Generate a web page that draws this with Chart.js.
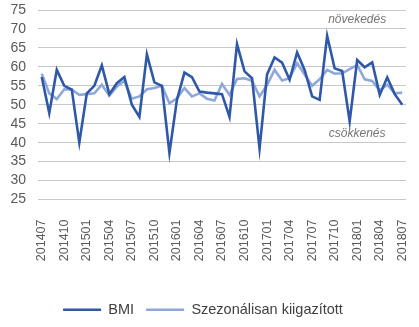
<!DOCTYPE html>
<html><head><meta charset="utf-8">
<script src="https://cdn.jsdelivr.net/npm/chart.js@4/dist/chart.umd.min.js"></script>
<style>html,body{margin:0;padding:0;background:#fff}#wrap{width:419px;height:327px}</style>
</head><body><div id="wrap"><canvas id="c" width="419" height="327"></canvas></div>
<script>
const months = ['201407','201408','201409','201410','201411','201412','201501','201502','201503','201504','201505','201506','201507','201508','201509','201510','201511','201512','201601','201602','201603','201604','201605','201606','201607','201608','201609','201610','201611','201612','201701','201702','201703','201704','201705','201706','201707','201708','201709','201710','201711','201712','201801','201802','201803','201804','201805','201806','201807'];
const bmi = [57.3,47.8,59.2,55,54,40,53,55,60.4,52.8,55.7,57.3,50,46.8,63.3,55.9,55,37.3,51.3,58.5,57.3,53.5,53.2,53,52.8,46.8,66,58.8,57,38.4,58,62.5,61.1,56.6,63.8,59.2,52.2,51.3,68.2,59.6,58.9,45.6,61.8,59.9,61.2,52.6,57.2,52.8,50];
const seasonal = [58.2,53,51.5,54.1,54,52.6,52.8,53,55.3,52.4,54.8,56.3,51.6,52.2,54.1,54.4,55,50.4,51.7,54.4,52.2,53,51.6,51.1,55.5,52.6,56.8,57,56.3,52.2,55.2,59.2,56.4,57,61,58,55,56.7,59.2,58.2,58.3,59.4,60.5,56.7,56.3,53.8,55.3,53,53.2];
const seriesNames = ['BMI','Szezonálisan kiigazított'];
const annotations = [{text:'növekedés', idx:42, value:72.4},{text:'csökkenés', idx:42, value:42.5}];

const annot = {
  id:'annot',
  afterDatasetsDraw(chart){
    const {ctx, scales:{x,y}} = chart;
    ctx.save();
    ctx.font = 'italic 12px "Liberation Sans", Arial, sans-serif';
    ctx.fillStyle = '#767676';
    ctx.textAlign = 'center';
    ctx.textBaseline = 'middle';
    annotations.forEach(a => ctx.fillText(a.text, x.getPixelForValue(a.idx), y.getPixelForValue(a.value)));
    ctx.restore();
  }
};

new Chart(document.getElementById('c'), {
  type:'line',
  data:{
    labels: months,
    datasets:[
      {label:seriesNames[0], data:bmi, borderColor:'#2f58a8', backgroundColor:'#2f58a8', borderWidth:2.6, pointRadius:0, tension:0},
      {label:seriesNames[1], data:seasonal, borderColor:'#8fa8dc', backgroundColor:'#8fa8dc', borderWidth:2.6, pointRadius:0, tension:0}
    ]
  },
  options:{
    responsive:false, animation:false,
    layout:{padding:{left:0,right:13,top:10,bottom:0}},
    plugins:{
      tooltip:{enabled:false},
      legend:{position:'bottom', labels:{usePointStyle:true, pointStyle:'line', pointStyleWidth:38, padding:12, color:'#404040', font:{size:14.5,family:'"Liberation Sans", Arial, sans-serif'}}}
    },
    scales:{
      x:{
        offset:true,
        grid:{display:false}, border:{display:false},
        ticks:{autoSkip:false, minRotation:90, maxRotation:90, padding:12, color:'#595959', font:{size:12.5,family:'"Liberation Sans", Arial, sans-serif'},
          callback:(v,i)=> i%3===0 ? months[i] : ''},
        afterFit(s){ s.height = 91; s.paddingLeft = 0; s.paddingRight = 0; }
      },
      y:{
        min:25, max:75,
        grid:{color:'#c8c8c8', drawTicks:false}, border:{display:false},
        ticks:{stepSize:5, autoSkip:false, padding:12, color:'#595959', font:{size:14,family:'"Liberation Sans", Arial, sans-serif'}},
        afterFit(s){ s.width = 38; s.paddingTop = 0; s.paddingBottom = 0; }
      }
    }
  },
  plugins:[annot]
});
</script></body></html>
